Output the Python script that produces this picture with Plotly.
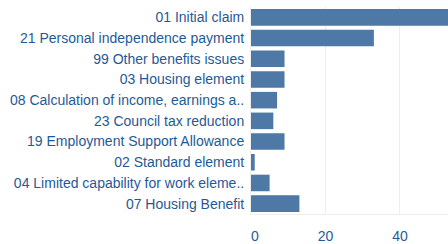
import plotly.graph_objects as go

categories = [
    "01 Initial claim",
    "21 Personal independence payment",
    "99 Other benefits issues",
    "03 Housing element",
    "08 Calculation of income, earnings a..",
    "23 Council tax reduction",
    "19 Employment Support Allowance",
    "02 Standard element",
    "04 Limited capability for work eleme..",
    "07 Housing Benefit",
]
values = [60, 33, 9, 9, 7, 6, 9, 1, 5, 13]
tick_values = [0, 20, 40]
tick_labels = ["\u00a0\u00a00", "20", "40"]

text_color = "#1f5a96"
bar_color = "#4e79a7"

fig = go.Figure(go.Bar(
    x=values, y=categories, orientation="h",
    marker=dict(color=bar_color, line=dict(width=0)),
))
fig.update_layout(
    width=448, height=244,
    margin=dict(l=251, r=0, t=7, b=27),
    paper_bgcolor="white", plot_bgcolor="white",
    bargap=0.2,
    font=dict(family="Liberation Sans, Arial, sans-serif", size=14, color=text_color),
    showlegend=False,
)
fig.update_xaxes(range=[0, 52.9], tickvals=tick_values, ticktext=tick_labels,
                 showgrid=True, gridcolor="#eeeeee",
                 zeroline=False, showline=True, linecolor="#eeeeee", ticks="outside",
                 ticklen=9, tickcolor="rgba(0,0,0,0)",
                 tickfont=dict(size=14, color=text_color))
fig.update_yaxes(autorange="reversed", showgrid=False, showline=True, linecolor="#eeeeee",
                 ticks="", ticklabelstandoff=3, tickfont=dict(size=14, color=text_color))
fig.write_html(
    "out.html",
    config={"displayModeBar": False},
    post_script="document.body.style.margin='0';document.body.style.overflow='hidden';",
)
